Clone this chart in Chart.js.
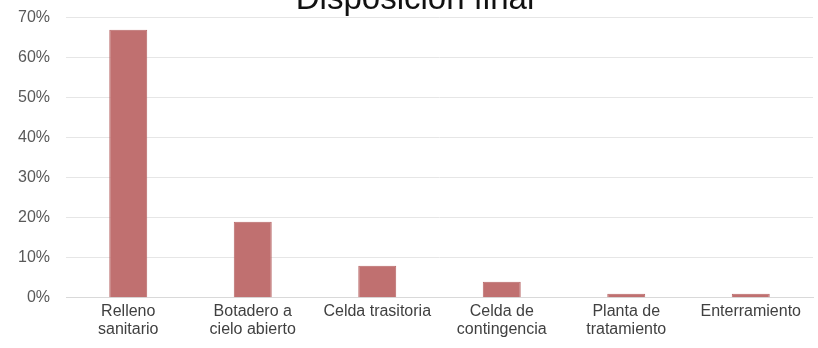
<!DOCTYPE html>
<html>
<head>
<meta charset="utf-8">
<script src="https://cdn.jsdelivr.net/npm/chart.js@4"></script>
<style>
  html, body { margin: 0; padding: 0; background: #ffffff; overflow: hidden; }
  #wrap { position: relative; width: 818px; height: 348px; overflow: hidden; }
  #c { position: absolute; left: 0; top: -20px; }
</style>
</head>
<body>
<div id="wrap"><canvas id="c" width="818" height="368"></canvas></div>
<script>
const chartTitle = "Disposición final";
const categories = [
  ["Relleno", "sanitario"],
  ["Botadero a", "cielo abierto"],
  ["Celda trasitoria"],
  ["Celda de", "contingencia"],
  ["Planta de", "tratamiento"],
  ["Enterramiento"]
];
const percentages = [67, 19, 8, 4, 1, 1];
const yTicks = [0, 10, 20, 30, 40, 50, 60, 70];

const font = "'Liberation Sans', Arial, sans-serif";

new Chart(document.getElementById('c'), {
  type: 'bar',
  data: {
    labels: categories,
    datasets: [{
      label: chartTitle,
      data: percentages,
      backgroundColor: '#c07070',
      borderColor: '#b86767',
      borderWidth: 1,
      categoryPercentage: 1,
      barPercentage: 0.305
    }]
  },
  options: {
    responsive: false,
    animation: false,
    layout: { padding: { left: 17, right: 5, top: 0, bottom: 5 } },
    plugins: {
      legend: { display: false },
      tooltip: { enabled: false },
      title: {
        display: true,
        text: chartTitle,
        color: '#111111',
        font: { family: font, size: 33, weight: 'normal', lineHeight: 1.05 },
        padding: { top: 3, bottom: 0 }
      }
    },
    scales: {
      x: {
        grid: { display: false, drawTicks: false },
        border: { display: true, color: '#d9d9d9', width: 1 },
        ticks: {
          color: '#404040',
          font: { family: font, size: 16, lineHeight: 1.1 },
          padding: 5,
          maxRotation: 0,
          autoSkip: false
        }
      },
      y: {
        min: 0,
        max: 70,
        afterFit: (s) => { s.width = 49; },
        afterBuildTicks: (s) => { s.ticks = yTicks.map(v => ({ value: v })); },
        grid: { color: '#e6e6e6', lineWidth: 1, drawTicks: false },
        border: { display: false },
        ticks: {
          color: '#595959',
          font: { family: font, size: 16 },
          padding: 16,
          callback: (v) => v + '%'
        }
      }
    }
  }
});
</script>
</body>
</html>
